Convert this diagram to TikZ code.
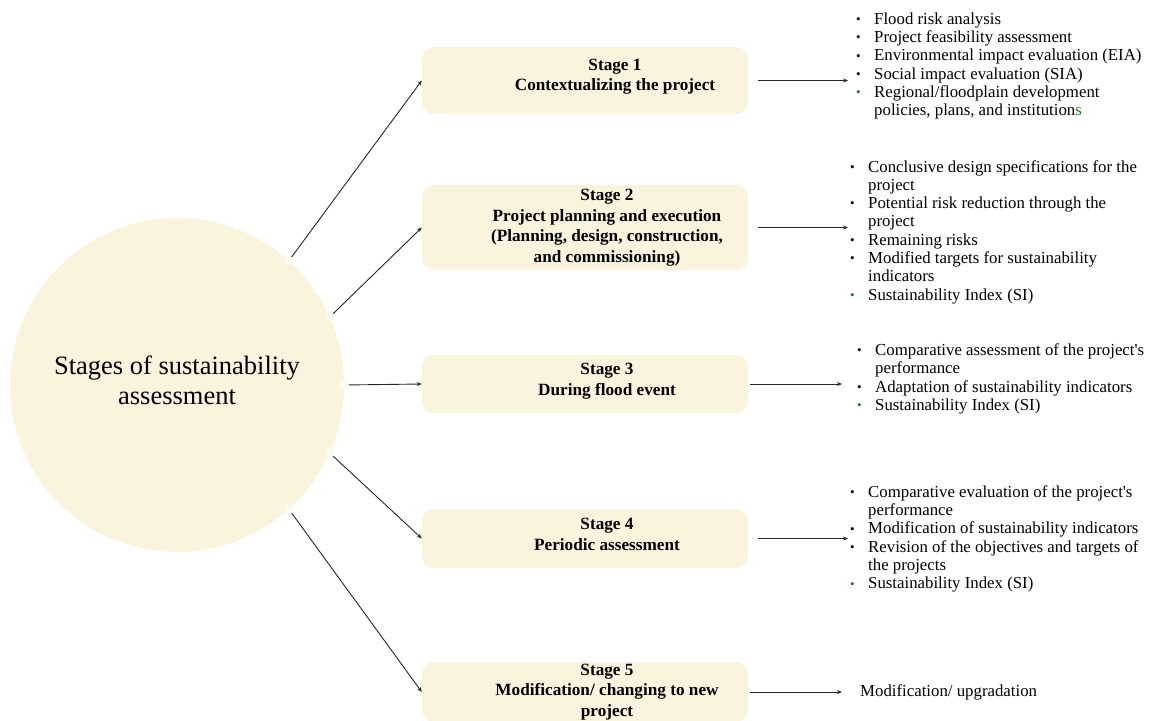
\documentclass[tikz,border=0pt]{standalone}
\usepackage{fontspec}
\setmainfont{Liberation Serif}
\usetikzlibrary{arrows.meta,positioning}
\definecolor{cream}{HTML}{FAF3DD}
\definecolor{dotfill}{HTML}{FDFAF0}
\definecolor{leafgreen}{HTML}{2E6B2E}
\newcommand{\itm}{\makebox[18pt][l]{\raisebox{0.1ex}{\fontsize{13}{13}\selectfont\textbullet}}}
\newcommand{\gitm}{\makebox[18pt][l]{\raisebox{0.1ex}{\fontsize{13}{13}\selectfont\color{leafgreen}\textbullet}}}
\newcommand{\cont}{\hspace*{18pt}}
\begin{document}
\begin{tikzpicture}[x=1pt,y=-1pt,
  stagebox/.style={fill=cream, rounded corners=12pt, minimum width=326pt, inner sep=0pt},
  stagetitle/.style={font=\fontsize{17.2}{20.5}\selectfont\bfseries, align=center, inner sep=0pt},
  itemlist/.style={font=\fontsize{16.8}{18.3}\selectfont, align=left, anchor=west, inner sep=0pt},
  link/.style={draw=black!85, line width=0.9pt, -{Stealth[length=5pt,width=4pt]}},
  joint/.style={circle, fill=dotfill, draw=cream!70!white, inner sep=0pt, minimum size=9pt}]
  \useasboundingbox (0,0) rectangle (1156,720);
  % Central circle with its joints
  \node[circle, fill=cream, minimum size=334pt, inner sep=0pt] (hub) at (177,385) {};
  \node[align=center, font=\fontsize{26.5}{30}\selectfont] (hubtext) at ([yshift=5pt]hub.center) {Stages of sustainability\\assessment};
  \foreach \a [count=\i] in {48,24,0,-24,-48}
    \node[joint] (j\i) at (hub.\a) {};
  % Stage boxes
  \foreach \i/\y/\h in {1/80.5/67, 2/227.5/85, 3/384/58, 4/538.5/59, 5/692/60} {
    \node[stagebox, minimum height=\h] (s\i) at (585,\y) {};
    \draw[link] (j\i) -- (s\i.west);
  }
  \node[stagetitle] (t1) at ([xshift=30pt,yshift=4pt]s1.center) {Stage 1\\Contextualizing the project};
  \node[stagetitle] (t2) at ([xshift=22pt]s2.center) {Stage 2\\Project planning and execution\\(Planning, design, construction,\\and commissioning)};
  \node[stagetitle] (t3) at ([xshift=22pt,yshift=3pt]s3.center) {Stage 3\\During flood event};
  \node[stagetitle] (t4) at ([xshift=22pt,yshift=4pt]s4.center) {Stage 4\\Periodic assessment};
  \node[stagetitle] (t5) at ([xshift=22pt]s5.center) {Stage 5\\Modification/ changing to new\\project};
  % Outcome lists
  \node[itemlist] (l1) at (856,66) {\itm Flood risk analysis\\
    \itm Project feasibility assessment\\
    \itm Environmental impact evaluation (EIA)\\
    \itm Social impact evaluation (SIA)\\
    \gitm Regional/floodplain development\\
    \cont policies, plans, and institution{\color{leafgreen}s}};
  \node[itemlist] (l2) at (850,232) {\itm Conclusive design specifications for the\\
    \cont project\\
    \itm Potential risk reduction through the\\
    \cont project\\
    \itm Remaining risks\\
    \itm Modified targets for sustainability\\
    \cont indicators\\
    \gitm Sustainability Index (SI)};
  \node[itemlist] (l3) at (857,379) {\itm Comparative assessment of the project\textquotesingle s\\
    \cont performance\\
    \itm Adaptation of sustainability indicators\\
    \gitm Sustainability Index (SI)};
  \node[itemlist] (l4) at (850,539) {\itm Comparative evaluation of the project\textquotesingle s\\
    \cont performance\\
    \itm Modification of sustainability indicators\\
    \itm Revision of the objectives and targets of\\
    \cont the projects\\
    \gitm Sustainability Index (SI)};
  \node[itemlist] (l5) at (860,692) {Modification/ upgradation};
  % Box to list arrows
  \foreach \i/\pre/\post in {1/10/8, 2/10/2, 3/2/15, 4/10/2, 5/2/18}
    \draw[link, shorten <=\pre, shorten >=\post] (s\i.east) -- (s\i.east -| l\i.west);
\end{tikzpicture}
\end{document}
